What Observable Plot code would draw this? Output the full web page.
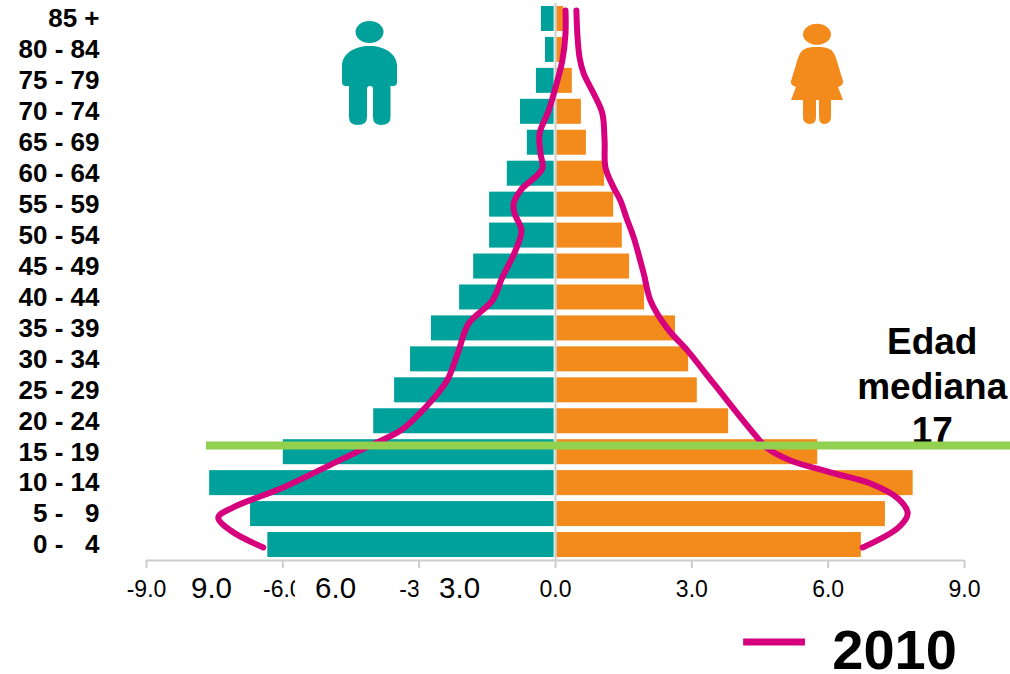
<!DOCTYPE html>
<html>
<head>
<meta charset="utf-8">
<script src="https://cdn.jsdelivr.net/npm/d3@7"></script>
<script src="https://cdn.jsdelivr.net/npm/@observablehq/plot@0.6"></script>
<style>
html,body{margin:0;padding:0;background:#fff;}
#wrap{position:relative;width:1010px;height:674px;overflow:hidden;font-family:"Liberation Sans",Arial,sans-serif;}
#wrap svg{display:block;position:absolute;left:0;top:0;}
</style>
</head>
<body>
<div id="wrap">
<div id="chart"></div>
<svg id="icons" width="1010" height="130" viewBox="0 0 1010 130" style="pointer-events:none">
  <ellipse cx="369.5" cy="32" rx="14" ry="11" fill="#00a19a"/>
  <path fill="#00a19a" d="M342 82V66C342 54 354 46 369.5 46C385 46 397 54 397 66V82Q397 86 393 86H390.5V117Q390.5 125 381 125Q373 125 373 117V89Q373 86 370 86Q367 86 367 89V117Q367 125 358 125Q349 125 349 117V86H346Q342 86 342 82Z"/>
  <ellipse cx="817" cy="34.3" rx="14" ry="10.5" fill="#f28a1c"/>
  <path fill="#f28a1c" d="M803 100H791L796 87Q790 85 791 81L798 58Q801 47 813 47H821Q833 47 836 58L843 81Q844 85 838 87L843 100H831V117Q831 124 824 124Q819 124 819 117V100H816V117Q816 124 810 124Q803 124 803 117Z"/>
</svg>
</div>
<script>
const ageLabels = ["0 -\u00a0\u00a0 4","5 -\u00a0\u00a0 9","10 - 14","15 - 19","20 - 24","25 - 29","30 - 34","35 - 39","40 - 44","45 - 49","50 - 54","55 - 59","60 - 64","65 - 69","70 - 74","75 - 79","80 - 84","85 +"];
const maleValues = [-6.33,-6.71,-7.61,-5.99,-4.0,-3.54,-3.19,-2.73,-2.11,-1.8,-1.45,-1.45,-1.06,-0.62,-0.77,-0.42,-0.22,-0.31];
const femaleValues = [6.73,7.26,7.87,5.77,3.81,3.12,2.93,2.64,1.96,1.63,1.47,1.28,1.08,0.68,0.57,0.37,0.15,0.18];
const line2010Female = [[0.46,17.27],[0.48,16.53],[0.53,15.75],[0.62,15.24],[0.84,14.59],[1.03,13.95],[1.08,13.07],[1.10,12.2],[1.28,11.55],[1.43,11.13],[1.56,10.58],[1.72,9.94],[1.94,8.78],[2.09,7.9],[2.46,7.0],[2.90,6.29],[3.48,5.22],[4.36,3.61],[4.67,3.12],[5.17,2.73],[6.05,2.35],[6.93,1.99],[7.53,1.51],[7.75,1.02],[7.55,0.57],[6.76,-0.08]];
const line2010Male = [[0.22,17.27],[0.22,16.53],[0.15,15.65],[0.04,15.0],[-0.15,14.04],[-0.35,13.3],[-0.33,12.65],[-0.29,12.17],[-0.77,11.46],[-0.92,11.04],[-0.90,10.71],[-0.75,10.17],[-0.88,9.52],[-1.17,8.65],[-1.39,7.9],[-1.91,7.16],[-2.13,6.29],[-2.35,5.42],[-2.49,5.09],[-2.97,4.28],[-3.41,3.7],[-4.07,3.22],[-4.89,2.64],[-5.99,1.86],[-7.09,1.22],[-7.42,0.89],[-7.15,0.47],[-6.43,-0.08]];
const xTicks = [-9,-6,-3,0,3,6,9];
const overlayLabels = [["9.0",-7.57],["6.0",-4.84],["3.0",-2.11]];
const overlayMasks = [[-5.72,-4.2],[-3.0,-1.5]];
const medianIndex = 3.22;
const indices = ageLabels.map((_, i) => i);
const halfBar = 0.404;
const teal = "#00a19a", orange = "#f28a1c", pink = "#d6007f", green = "#92d050", grey = "#cccccc";

const chart = Plot.plot({
  width: 1010, height: 674,
  marginLeft: 146, marginRight: 46, marginTop: 3, marginBottom: 114,
  style: {fontFamily: '"Liberation Sans", Arial, sans-serif', background: "#fff", overflow: "visible"},
  x: {domain: [-9, 9], label: null},
  y: {type: "linear", domain: [-0.5, 17.5], label: null},
  marks: [
    Plot.rect(indices, {x1: i => maleValues[i], x2: -0.03, y1: i => i - halfBar, y2: i => i + halfBar, fill: teal}),
    Plot.rect(indices, {x1: 0.03, x2: i => femaleValues[i], y1: i => i - halfBar, y2: i => i + halfBar, fill: orange}),
    Plot.ruleX([0], {y1: -0.5, y2: 17.5, stroke: grey, strokeWidth: 2}),
    Plot.ruleY([-0.5], {x1: -9, x2: 9, stroke: grey, strokeWidth: 2}),
    Plot.axisX({ticks: xTicks, tickSize: 8, tickPadding: 12, tickFormat: d => d.toFixed(1), fontSize: 23, stroke: grey, strokeWidth: 2, strokeOpacity: 1, fill: "#000", label: null}),
    Plot.axisY({ticks: indices, tickSize: 0, tickPadding: 47, tickFormat: i => ageLabels[i], fontSize: 26, fontWeight: "bold", fill: "#000", label: null}),
    Plot.rect(overlayMasks, {x1: d => d[0], x2: d => d[1], y1: -1.0, y2: -2.0, fill: "#fff"}),
    Plot.text(overlayLabels, {x: d => d[1], y: -1.42, text: d => d[0], fontSize: 29.5, fill: "#000"}),
    Plot.line(line2010Female, {x: d => d[0], y: d => d[1], stroke: pink, strokeWidth: 6, curve: "catmull-rom"}),
    Plot.line(line2010Male, {x: d => d[0], y: d => d[1], stroke: pink, strokeWidth: 6, curve: "catmull-rom"}),
    Plot.text(["Edad\nmediana\n17"], {x: 8.29, y: 5.19, text: d => d, fontSize: 37, fontWeight: "bold", lineHeight: 1.2, fill: "#000"}),
    Plot.ruleY([medianIndex], {x1: -7.68, x2: 10.02, stroke: green, strokeWidth: 8}),
    Plot.ruleY([-3.13], {x1: 4.14, x2: 5.5, stroke: pink, strokeWidth: 7}),
    Plot.text(["2010"], {x: 7.46, y: -3.42, text: d => d, fontSize: 56, fontWeight: "bold", fill: "#000"})
  ]
});
document.getElementById("chart").appendChild(chart);
</script>
</body>
</html>
